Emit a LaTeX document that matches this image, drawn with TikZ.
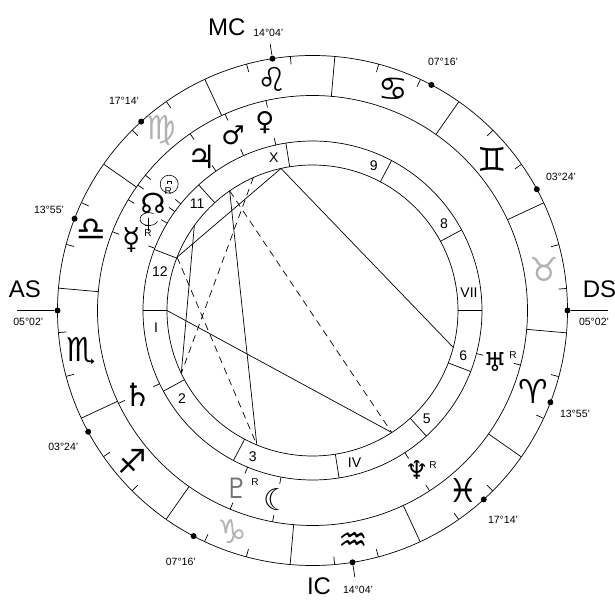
\documentclass[tikz,border=0pt]{standalone}
\usepackage{fontspec}
\setmainfont{Liberation Sans}
\newfontfamily\astro{DejaVu Sans}
\begin{document}
\begin{tikzpicture}[x=1pt,y=1pt,line width=0.7pt]
\tikzstyle{signglyph} = [font=\astro\fontsize{33}{33}\selectfont, inner sep=0pt]
\tikzstyle{planetglyph} = [inner sep=0pt]
\tikzstyle{degree} = [font=\fontsize{10.5}{10.5}\selectfont, inner sep=0pt]
\tikzstyle{axislabel} = [font=\fontsize{24}{24}\selectfont, inner sep=0pt]
\tikzstyle{house} = [font=\fontsize{14}{14}\selectfont, inner sep=0pt]
\tikzstyle{retro} = [font=\fontsize{10}{10}\selectfont, inner sep=0pt]
\tikzstyle{aspect} = [line width=0.7pt]
\tikzstyle{cuspdot} = [circle, fill=black, inner sep=0pt, minimum size=6pt]
\useasboundingbox (-312.5,-288.5) rectangle (302.5,310.5);
% rings
\draw (0,0) circle (255);
\draw (0,0) circle (215);
\draw (0,0) circle (169.5);
\draw (0,0) circle (145.5);
% signs: boundaries, 10 degree ticks, glyphs
\foreach \g/\c [count=\k from 0] in {♈/black, ♉/black!30, ♊/black, ♋/black, ♌/black, ♍/black!30, ♎/black, ♏/black, ♐/black, ♑/black!30, ♒/black, ♓/black} {
  \draw ({30*\k-35.03}:215) -- ({30*\k-35.03}:255);
  \draw ({30*\k-25.03}:247) -- ({30*\k-25.03}:255);
  \draw ({30*\k-15.03}:247) -- ({30*\k-15.03}:255);
  \node[signglyph, text=\c] (sign\k) at ({30*\k-20.03}:235) {\g};
}
% houses
\foreach \a/\b/\h [count=\n] in {180/186.3/I, 208.4/214/2, 242.2/247.7/3, 279.03/285.5/IV, 312.2/316.5/5, 338.9/343.2/6, 0/6.4/VII, 28.4/33.4/8, 62.2/67.1/9, 99.03/104.2/X, 132.2/137.1/11, 158.9/165.6/12} {
  \draw (\a:145.5) -- (\a:169.5);
  \node[house] (house\n) at (\b:157.5) {\h};
  \node[cuspdot] (cusp\n) at (\a:255) {};
}
% angles
\coordinate (asend) at (-295.5,0);
\coordinate (dsend) at (295,0);
\draw (cusp1) -- (asend);
\draw (cusp7) -- (dsend);
\draw (cusp10) -- (99.03:270);
\draw (cusp4) -- (279.03:270);
\node[axislabel] (mc) at (-85.8,283.5) {MC};
\node[axislabel] (as) at (-287.5,21.5) {AS};
\node[axislabel] (ds) at (287,21.5) {DS};
\node[axislabel] (ic) at (6.5,-275.5) {IC};
% cusp degrees
\node[degree] (deg10) at (-44.2,278) {14°04'};
\node[degree] (deg11) at (-188.5,209.7) {17°14'};
\node[degree] (deg12) at (-263.5,100.5) {13°55'};
\node[degree] (deg1) at (-284.2,-11.2) {05°02'};
\node[degree] (deg2) at (-249.2,-136.2) {03°24'};
\node[degree] (deg3) at (-131.7,-251) {07°16'};
\node[degree] (deg4) at (45.5,-279) {14°04'};
\node[degree] (deg5) at (190.5,-209.5) {17°14'};
\node[degree] (deg6) at (262.5,-103.5) {13°55'};
\node[degree] (deg7) at (281.5,-11.2) {05°02'};
\node[degree] (deg8) at (248.5,133.8) {03°24'};
\node[degree] (deg9) at (130.5,248.8) {07°16'};
% planets: ticks and glyphs
\foreach \a/\x/\y/\g/\c/\s/\p in {102.5/-47.5/187.5/♀/black/26/ve, 114/-79.5/175.5/♂/black/26/ma, 124.7/-110.5/153.5/♃/black/32/ju, 158.5/-180.5/70.5/☿/black/30/me, 205.6/-174.2/-84.5/♄/black/32/sa, 247.5/-75.8/-177.8/♇/black!55/28/pl, 259.3/-35.8/-189.5/☾/black/30/mo, 303/104.2/-159.5/♆/black/26/ne, 345.3/182.5/-51.2/♅/black/26/ur} {
  \draw (\a:215) -- (\a:208);
  \draw (\a:169.5) -- (\a:176.5);
  \node[planetglyph, font=\astro\fontsize{\s}{\s}\selectfont, text=\c] (\p) at (\x,\y) {\g};
  \coordinate (asp-\p) at (\a:145.5);
}
\foreach \a/\p in {141/ci, 144.3/no, 149/li} {
  \draw (\a:215) -- (\a:208);
  \draw (\a:169.5) -- (\a:176.5);
  \coordinate (asp-\p) at (\a:145.5);
}
\node[planetglyph, font=\astro\fontsize{28}{28}\selectfont] (no) at (-159.5,107.5) {☊};
\node[circle, draw, minimum size=18pt, inner sep=0pt, line width=0.6pt] (ci) at (-143.3,126.3) {};
\draw[line width=0.6pt] ([xshift=-2pt]ci.center) -- ++(0,3) -- ++(4,0) -- ++(0,-3);
\draw[line width=0.6pt] (-159,97) arc (60:340:9 and 6.5);
\draw[line width=0.6pt] (-164.2,92) -- (-164.2,79);
\draw[line width=0.6pt] (-167.5,85.5) -- (-161,85.5);
\coordinate (asp-as) at (180:145.5);
% retrograde marks
\node[retro] (r-ci) at (-144.2,119.3) {R};
\node[retro] (r-me) at (-164.5,77.5) {R};
\node[retro] (r-pl) at (-57.5,-171.2) {R};
\node[retro] (r-ne) at (120.5,-154.5) {R};
\node[retro] (r-ur) at (200.5,-44.5) {R};
% aspects
\draw[aspect] (asp-ve) -- (asp-me);
\draw[aspect] (asp-ve) -- (asp-ur);
\draw[aspect] (asp-ju) -- (asp-pl);
\draw[aspect] (asp-as) -- (asp-ne);
\draw[aspect] (asp-no) -- (asp-sa);
\draw[aspect, dash pattern=on 7pt off 5pt] (asp-ju) -- (asp-ne);
\draw[aspect, dash pattern=on 7pt off 5pt] (asp-ma) -- (asp-sa);
\draw[aspect, dash pattern=on 7pt off 5pt] (asp-me) -- (asp-pl);
\end{tikzpicture}
\end{document}
